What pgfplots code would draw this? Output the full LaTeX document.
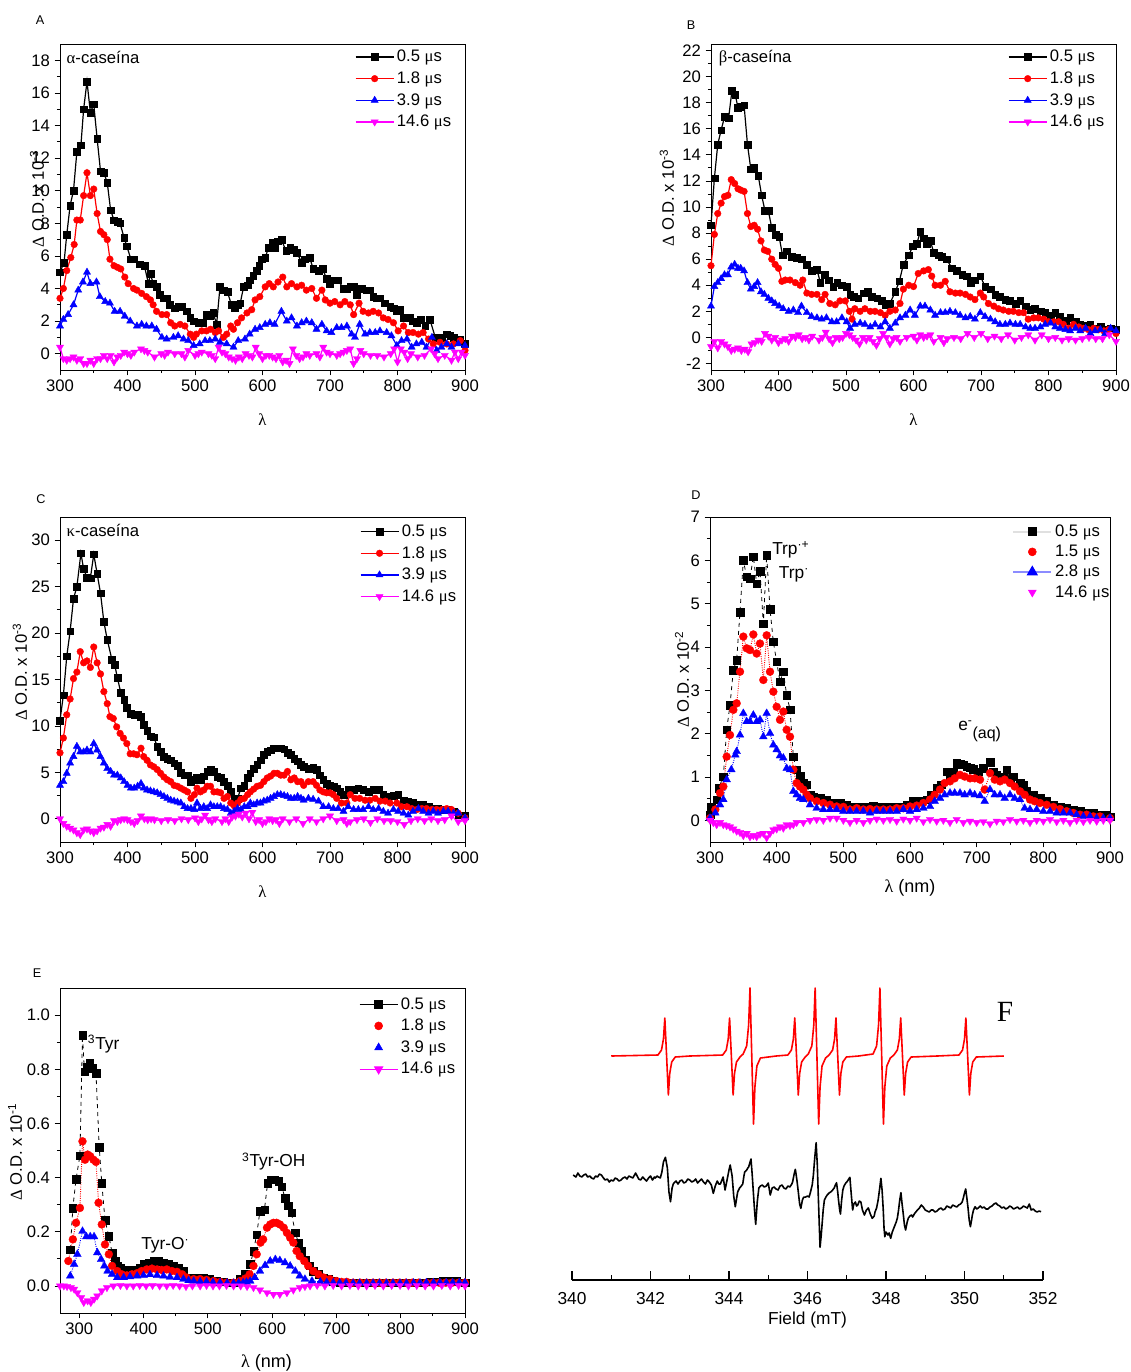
\documentclass[border=0pt]{standalone}
\usepackage{fontspec}
\setmainfont{Liberation Sans}
\newfontfamily\grk{Liberation Serif}
\usepackage{pgfplots}
\pgfplotsset{compat=1.18}
\definecolor{mag}{RGB}{255,0,255}
\definecolor{rd}{RGB}{255,0,0}
\definecolor{bl}{RGB}{0,0,255}
\newcommand{\us}{{\grk μ}s}
\newcommand{\fs}[1]{\fontsize{#1}{#1}\selectfont}
\pgfplotsset{
  spec/.style={
    scale only axis, width=303.75pt, height=244.5pt,
    xmin=300, xmax=900, clip=false,
    axis line style={line width=0.6pt},
    tick align=outside, xtick pos=bottom, ytick pos=left,
    major tick length=4pt, minor tick length=2.3pt,
    every tick/.style={black, line width=0.6pt},
    xtick distance=100, minor x tick num=1, minor y tick num=1,
    tick label style={font=\fs{12.5}},
    /pgf/number format/assume math mode=true,
    label style={font=\fs{12.5}},
    legend style={draw=none, fill=none, inner sep=0pt, font=\fs{12.5}, row sep=2pt, anchor=north west},
    legend cell align=left,
    legend image code/.code={\draw[mark repeat=2,mark phase=2] plot coordinates {(0cm,0cm)(0.5cm,0cm)(1cm,0cm)};},
  },
  sA/.style={black, line width=0.9pt, mark=square*, mark size=2.5pt, mark options={solid, line width=0.3pt}},
  sB/.style={rd, line width=0.9pt, mark=*, mark size=2.5pt, mark options={solid, line width=0.3pt}},
  sC/.style={bl, line width=0.9pt, mark=triangle*, mark size=3.1pt, mark options={solid, line width=0.3pt}},
  sD/.style={mag, line width=0.9pt, mark=triangle*, mark size=3.1pt, mark options={solid, line width=0.3pt, rotate=180}},
}
\begin{document}
\begin{tikzpicture}
\path[use as bounding box] (0,0) rectangle (848.25pt,-1029pt);
% panel letters
\node[font=\fs{9.5}] at (30pt,-15pt) {A};
\node[font=\fs{9.5}] at (518.25pt,-18.75pt) {B};
\node[font=\fs{9.5}] at (30.75pt,-374.25pt) {C};
\node[font=\fs{9.5}] at (522pt,-371.25pt) {D};
\node[font=\fs{9.5}] at (27.75pt,-729.75pt) {E};
\node[font=\grk\fs{22}] at (753.75pt,-759pt) {F};

%%%%%%%%%%%%%%%% A
\begin{axis}[spec, at={(45pt,-277.5pt)}, anchor=south west,
  ymin=-1, ymax=19, ytick={0,2,...,18},
  xlabel={\grk λ}, xlabel style={at={(axis description cs:0.5,-0.153)}, anchor=center},
  ylabel={{\grk Δ} O.D. x 10\textsuperscript{-3}},
  ylabel style={at={(axis description cs:-0.057,0.525)}, anchor=center},
  legend style={at={(0.728,0.99)}}]
\addplot[sA] coordinates {(300,5.0)(306,5.6)(310,7.3)(315,9.1)(320,10.0)(325,12.4)(331,12.8)(335,15.0)(340,16.7)(345,14.8)(350,15.3)(355,13.2)(360,11.2)(365,11.1)(370,10.5)(375,8.8)(380,8.2)(385,8.1)(389,8.0)(395,7.1)(399,6.6)(405,5.8)(410,5.8)(418,5.5)(425,5.4)(431,4.3)(434,4.9)(438,4.3)(443,4.1)(448,3.6)(453,3.4)(458,3.4)(463,3.0)(470,2.8)(475,2.9)(480,2.9)(488,2.6)(493,2.2)(498,2.0)(505,1.9)(512,1.9)(517,2.4)(522,2.3)(527,2.5)(532,1.8)(537,4.1)(543,3.9)(548,3.8)(554,3.0)(559,2.8)(563,3.0)(567,3.1)(572,4.1)(578,4.2)(581,4.5)(586,4.8)(591,5.1)(595,5.4)(599,5.8)(604,5.9)(609,6.5)(615,6.8)(618,6.5)(623,6.9)(628,7.0)(635,6.3)(641,6.5)(646,6.4)(651,6.2)(658,5.6)(663,5.8)(670,5.9)(675,5.2)(683,5.1)(689,5.2)(695,4.6)(700,4.3)(707,4.5)(712,4.5)(720,4.0)(725,4.0)(730,4.1)(735,4.1)(740,3.6)(747,4.0)(754,3.9)(759,3.9)(764,3.5)(769,3.4)(774,3.4)(781,3.1)(789,2.9)(794,2.8)(799,2.6)(804,2.7)(809,2.2)(813,2.2)(818,2.2)(823,2.0)(828,1.9)(834,2.1)(841,1.7)(848,2.1)(856,1.0)(860,1.0)(865,1.0)(873,1.2)(878,1.1)(883,1.0)(888,0.9)(893,0.9)(900,0.6)};
\addlegendentry{0.5 \us}
\addplot[sB] coordinates {(300,3.4)(305,4.0)(310,5.1)(316,5.9)(321,6.7)(325,8.2)(330,8.2)(335,9.7)(340,11.1)(345,9.7)(350,10.1)(355,8.6)(360,7.5)(365,7.3)(370,7.0)(374,5.8)(380,5.4)(385,5.3)(390,5.2)(396,4.7)(401,4.3)(409,4.0)(414,3.9)(421,3.7)(428,3.5)(434,3.3)(438,3.0)(443,2.6)(451,2.4)(458,2.4)(464,1.9)(470,1.7)(478,1.8)(485,1.7)(493,1.2)(498,1.0)(502,1.2)(510,1.4)(517,1.4)(523,1.5)(530,1.3)(535,1.4)(542,1.0)(547,1.2)(553,1.7)(557,1.5)(563,1.9)(569,2.2)(577,2.5)(584,2.7)(589,3.3)(596,3.5)(604,4.1)(610,4.3)(616,4.1)(623,4.4)(630,4.7)(636,4.1)(643,4.3)(651,4.1)(658,4.2)(665,3.9)(673,4.0)(680,3.4)(688,3.9)(693,3.3)(700,3.1)(707,3.2)(715,3.0)(722,3.2)(730,3.0)(735,2.4)(743,3.1)(749,2.6)(757,2.5)(764,2.6)(772,2.5)(779,2.2)(786,2.1)(794,1.9)(801,1.4)(809,1.7)(816,1.3)(823,1.3)(831,1.2)(838,1.3)(846,0.9)(853,0.6)(863,0.7)(873,0.6)(883,0.6)(893,0.8)(900,0.2)};
\addlegendentry{1.8 \us}
\addplot[sC] coordinates {(300,1.7)(305,2.1)(312,2.4)(320,3.0)(327,3.9)(334,4.4)(340,5.0)(345,4.3)(354,4.4)(359,3.5)(367,3.2)(374,3.1)(381,2.6)(389,2.6)(396,2.3)(404,2.0)(414,1.7)(421,1.8)(428,1.7)(436,1.7)(443,1.5)(451,1.0)(458,0.9)(468,1.0)(475,1.1)(483,0.9)(490,0.8)(498,0.5)(507,0.6)(515,0.8)(522,0.8)(530,0.9)(537,0.7)(547,0.6)(557,0.4)(564,0.8)(574,0.9)(581,1.2)(589,1.5)(596,1.6)(604,1.8)(611,1.9)(618,1.8)(628,2.6)(636,2.0)(643,2.2)(651,1.7)(658,1.9)(665,2.0)(673,1.9)(680,1.5)(688,1.8)(695,1.4)(702,1.3)(710,1.6)(717,1.6)(725,1.7)(732,1.2)(737,1.0)(744,1.8)(752,1.2)(759,1.3)(767,1.3)(774,1.4)(784,1.3)(791,1.1)(799,0.5)(806,0.8)(814,0.9)(821,0.4)(828,0.6)(836,0.7)(843,0.4)(851,1.0)(858,0.2)(865,0.4)(873,0.6)(880,0.4)(890,0.6)(900,0.5)};
\addlegendentry{3.9 \us}
\addplot[sD] coordinates {(300,0.4)(305,-0.3)(310,-0.4)(315,-0.3)(320,-0.2)(325,-0.4)(330,-0.3)(335,-0.6)(340,-0.6)(345,-0.4)(350,-0.6)(355,-0.3)(360,-0.3)(365,-0.1)(370,-0.3)(375,-0.1)(380,-0.5)(385,-0.2)(390,-0.1)(395,0.1)(400,0.0)(405,-0.1)(410,0.1)(420,0.3)(425,0.2)(430,0.1)(440,-0.2)(450,0.0)(455,-0.1)(460,0.1)(470,0.0)(480,0.0)(485,-0.2)(490,0.2)(500,-0.1)(505,0.0)(510,0.1)(520,0.0)(525,-0.1)(530,-0.3)(535,0.4)(540,0.1)(545,0.0)(550,-0.2)(555,-0.3)(560,-0.4)(565,-0.2)(570,-0.3)(575,0.0)(580,-0.1)(585,-0.2)(590,0.4)(595,0.0)(600,-0.3)(605,-0.1)(610,-0.1)(615,-0.2)(620,-0.3)(625,-0.1)(630,-0.5)(635,-0.4)(640,-0.6)(645,0.3)(650,-0.1)(655,-0.3)(660,-0.2)(665,0.0)(670,-0.1)(680,0.0)(685,-0.2)(690,0.4)(695,0.1)(700,0.0)(710,-0.1)(715,0.0)(720,0.1)(725,0.2)(730,0.3)(735,-0.6)(740,-0.3)(745,0.2)(750,0.0)(760,-0.1)(770,-0.1)(780,-0.2)(790,0.0)(795,0.3)(800,-0.5)(805,0.3)(810,0.1)(815,-0.3)(820,0.0)(830,-0.2)(840,-0.1)(850,0.3)(855,0.0)(860,-0.3)(870,-0.1)(880,-0.4)(885,0.1)(890,-0.3)(895,0.1)(900,-0.1)};
\addlegendentry{14.6 \us}
\node[anchor=west, font=\fs{12.5}] at (rel axis cs:0.005,0.96) {{\grk α}-caseína};
\end{axis}

%%%%%%%%%%%%%%%% B
\begin{axis}[spec, at={(533.25pt,-277.5pt)}, anchor=south west,
  ymin=-2.5, ymax=22.5, ytick={-2,0,...,22},
  xlabel={\grk λ}, xlabel style={at={(axis description cs:0.5,-0.153)}, anchor=center},
  ylabel={{\grk Δ} O.D. x 10\textsuperscript{-3}},
  ylabel style={at={(axis description cs:-0.109,0.528)}, anchor=center},
  legend style={at={(0.733,0.99)}}]
\addplot[sA] coordinates {(300,8.6)(305,12.2)(310,14.8)(315,15.9)(320,16.9)(326,16.8)(331,18.9)(336,18.6)(340,17.6)(344,17.7)(349,17.8)(354,14.8)(359,12.9)(364,13.0)(370,12.4)(375,10.9)(380,9.7)(385,9.7)(390,8.4)(396,7.9)(401,7.7)(406,6.3)(412,6.6)(420,6.2)(427,6.1)(434,6.0)(442,5.6)(449,5.1)(457,5.2)(462,4.2)(468,4.8)(474,4.4)(481,3.9)(487,4.2)(494,4.0)(501,3.9)(506,3.3)(511,3.1)(518,3.0)(526,3.4)(532,3.5)(538,3.1)(546,3.0)(553,2.8)(558,2.5)(565,2.6)(573,3.5)(579,4.3)(585,5.6)(593,6.3)(599,7.0)(605,7.2)(610,8.1)(615,7.6)(620,7.2)(625,7.4)(630,6.5)(637,6.3)(642,6.2)(649,6.0)(657,5.3)(664,5.1)(672,4.8)(679,4.7)(685,4.2)(691,4.4)(699,4.7)(706,3.9)(714,3.7)(721,3.3)(728,3.1)(736,2.9)(743,2.8)(751,2.6)(758,2.8)(766,2.4)(773,2.1)(780,2.2)(788,2.0)(795,1.9)(803,1.7)(810,1.9)(817,1.6)(825,1.3)(832,1.5)(840,1.2)(847,1.0)(855,0.9)(862,1.0)(869,0.7)(877,0.8)(884,0.6)(892,0.7)(900,0.6)};
\addlegendentry{0.5 \us}
\addplot[sB] coordinates {(300,5.5)(305,7.9)(310,9.5)(315,10.3)(320,10.8)(325,10.9)(330,12.1)(335,11.8)(340,11.4)(344,11.3)(349,11.2)(354,9.5)(359,8.5)(364,8.6)(369,8.3)(374,7.4)(379,6.7)(384,6.6)(390,6.0)(395,5.6)(400,5.3)(405,4.3)(410,4.4)(417,4.4)(425,4.2)(432,4.0)(436,4.4)(442,3.4)(449,3.3)(457,3.3)(464,2.9)(469,3.3)(476,2.6)(484,2.5)(491,2.8)(499,2.8)(505,2.0)(509,1.4)(513,2.2)(521,2.0)(528,2.2)(536,2.0)(543,2.0)(551,1.9)(558,1.7)(565,2.0)(573,2.1)(580,2.6)(585,3.7)(593,4.0)(600,3.9)(607,4.9)(615,5.1)(622,5.2)(627,4.7)(632,4.0)(640,4.0)(647,4.3)(654,3.5)(662,3.4)(669,3.4)(677,3.3)(684,3.1)(691,2.9)(699,3.4)(704,3.1)(711,2.6)(719,2.4)(726,2.2)(733,2.1)(741,2.0)(748,2.0)(756,1.9)(763,1.9)(770,1.4)(778,1.5)(785,1.5)(793,1.4)(800,1.2)(808,1.2)(815,1.2)(822,1.0)(830,0.7)(837,1.0)(845,0.8)(852,0.7)(859,0.6)(867,0.7)(874,0.6)(882,0.5)(889,0.6)(900,0.3)};
\addlegendentry{1.8 \us}
\addplot[sC] coordinates {(300,2.4)(305,3.9)(310,4.2)(315,4.5)(320,4.8)(325,4.8)(330,5.4)(335,5.6)(340,5.3)(344,5.3)(349,5.1)(354,4.2)(359,3.7)(364,3.9)(369,4.2)(374,3.5)(379,3.3)(385,3.0)(390,2.8)(395,2.6)(401,2.4)(407,2.2)(415,2.0)(422,2.1)(429,1.9)(434,2.4)(442,1.9)(449,1.6)(457,1.5)(464,1.4)(471,1.5)(479,1.2)(486,1.2)(494,1.5)(501,1.2)(506,0.7)(513,1.0)(521,1.1)(528,1.0)(536,0.8)(543,1.0)(551,0.8)(558,1.2)(565,0.7)(573,1.1)(580,1.5)(588,1.7)(595,2.1)(602,1.7)(610,2.4)(617,2.4)(625,2.1)(632,1.7)(640,1.9)(647,1.9)(654,2.0)(662,1.9)(669,1.7)(677,1.5)(684,1.6)(691,1.4)(699,1.9)(706,1.6)(714,1.4)(721,1.2)(728,1.0)(736,1.0)(743,1.1)(751,1.0)(758,1.0)(766,0.8)(773,0.7)(780,0.7)(788,0.8)(795,1.0)(803,1.1)(810,0.8)(817,0.7)(825,0.6)(832,0.5)(840,0.7)(847,0.5)(855,0.7)(862,0.3)(869,0.5)(877,0.6)(884,0.3)(892,0.7)(900,0.5)};
\addlegendentry{3.9 \us}
\addplot[sD] coordinates {(300,-0.7)(305,-0.3)(310,-0.8)(315,-0.3)(320,-0.5)(325,-0.7)(330,-1.0)(335,-0.9)(340,-0.8)(345,-1.0)(350,-0.9)(355,-1.1)(360,-0.5)(365,-0.4)(370,-0.2)(375,-0.3)(380,0.3)(385,0.1)(390,-0.2)(395,0.0)(400,-0.4)(405,-0.2)(410,-0.1)(415,-0.3)(420,0.1)(425,0.0)(430,0.2)(435,-0.1)(440,0.0)(445,-0.2)(450,0.1)(460,-0.2)(465,0.0)(470,0.4)(475,-0.1)(480,-0.4)(485,0.0)(490,-0.1)(495,0.0)(500,0.3)(505,0.2)(510,0.0)(515,-0.2)(520,-0.5)(525,0.0)(530,-0.2)(535,0.0)(540,-0.3)(545,-0.6)(550,-0.1)(555,0.3)(560,0.0)(565,-0.5)(570,-0.1)(575,0.0)(580,-0.3)(590,0.0)(600,0.1)(605,-0.2)(610,0.2)(615,0.0)(620,0.1)(625,0.2)(630,-0.3)(640,0.0)(645,-0.4)(650,-0.1)(660,0.0)(670,-0.1)(680,0.3)(690,0.0)(700,0.3)(710,-0.1)(720,0.1)(730,-0.1)(740,0.2)(750,-0.2)(760,0.0)(770,0.2)(780,-0.2)(790,0.2)(800,-0.1)(810,0.0)(820,-0.2)(830,-0.1)(840,-0.2)(850,-0.1)(860,0.0)(870,-0.1)(880,-0.1)(890,0.2)(900,-0.3)};
\addlegendentry{14.6 \us}
\node[anchor=west, font=\fs{12.5}] at (rel axis cs:0.008,0.957) {{\grk β}-caseína};
\end{axis}

%%%%%%%%%%%%%%%% C
\begin{axis}[spec, at={(45pt,-631.5pt)}, anchor=south west, height=243.75pt,
  ymin=-2.5, ymax=32.5, ytick={0,5,...,30},
  xlabel={\grk λ}, xlabel style={at={(axis description cs:0.5,-0.154)}, anchor=center},
  ylabel={{\grk Δ} O.D. x 10\textsuperscript{-3}},
  ylabel style={at={(axis description cs:-0.099,0.523)}, anchor=center},
  legend style={at={(0.74,0.985)}}]
\addplot[sA] coordinates {(300,10.6)(305,13.3)(310,17.5)(315,20.2)(320,23.7)(325,25.0)(331,28.6)(335,26.9)(340,26.0)(345,25.9)(350,28.5)(355,26.4)(360,24.3)(365,21.2)(370,19.3)(377,17.1)(381,16.6)(385,15.2)(390,13.6)(395,12.8)(399,12.0)(405,11.3)(410,11.2)(415,11.2)(420,11.0)(424,10.1)(429,9.5)(434,8.9)(439,8.8)(444,7.8)(449,7.2)(454,6.7)(459,6.5)(464,6.3)(469,6.0)(474,5.7)(479,5.0)(484,4.7)(489,4.7)(494,4.0)(499,4.2)(503,4.4)(508,4.2)(513,4.6)(518,5.1)(523,5.3)(528,5.1)(533,4.5)(538,4.4)(543,4.0)(548,3.6)(553,2.9)(558,2.2)(563,2.2)(568,3.3)(573,3.6)(578,4.4)(582,4.9)(587,5.4)(592,5.8)(597,6.3)(602,6.9)(607,7.2)(612,7.4)(617,7.6)(622,7.6)(627,7.6)(632,7.5)(637,7.1)(642,6.9)(647,6.5)(652,6.2)(657,5.8)(661,5.6)(668,5.4)(675,5.5)(680,5.3)(685,4.7)(690,4.2)(695,3.8)(700,3.6)(705,3.5)(710,3.3)(715,2.9)(720,2.6)(727,3.1)(735,3.1)(742,3.3)(749,3.1)(757,2.9)(764,3.1)(772,3.1)(779,2.6)(786,2.4)(794,2.5)(801,2.6)(809,2.0)(816,1.9)(823,1.7)(831,1.5)(838,1.5)(846,1.3)(853,1.1)(860,1.1)(868,1.0)(875,1.0)(883,0.8)(890,0.4)(900,0.3)};
\addlegendentry{0.5 \us}
\addplot[sB] coordinates {(300,7.1)(305,8.7)(310,11.2)(315,12.9)(320,15.1)(325,15.8)(330,18.0)(335,16.8)(340,17.0)(345,16.3)(350,18.5)(355,16.8)(360,15.6)(365,13.7)(370,12.4)(374,11.0)(379,10.8)(384,9.9)(389,9.2)(394,8.7)(399,8.1)(404,7.0)(409,7.0)(414,6.9)(420,7.6)(424,6.7)(429,6.3)(434,5.8)(439,5.6)(444,5.3)(449,4.9)(454,4.5)(459,4.2)(464,4.0)(469,3.6)(474,3.5)(479,3.3)(484,3.1)(489,2.9)(494,2.2)(499,2.6)(503,3.3)(508,2.9)(513,3.1)(518,3.5)(523,3.5)(528,2.9)(533,2.9)(538,2.8)(543,2.2)(548,2.4)(553,1.7)(558,1.4)(563,1.7)(568,2.1)(573,2.2)(578,2.6)(582,2.9)(587,3.2)(592,3.5)(597,3.6)(602,4.0)(607,4.4)(612,4.6)(617,4.9)(622,4.9)(627,4.7)(632,4.7)(637,5.1)(642,4.2)(647,4.4)(652,4.0)(657,4.0)(661,3.6)(668,4.0)(675,4.0)(680,3.6)(685,3.1)(690,2.9)(695,2.8)(700,2.8)(705,2.6)(710,2.2)(717,1.7)(725,1.7)(730,2.6)(737,2.2)(744,2.2)(752,2.0)(759,2.0)(767,2.2)(774,1.9)(782,1.9)(789,1.7)(799,1.7)(806,1.3)(814,1.3)(821,1.1)(829,1.0)(836,1.1)(843,1.1)(851,1.0)(858,1.0)(866,1.0)(873,1.1)(880,1.0)(890,0.6)(900,0.1)};
\addlegendentry{1.8 \us}
\addplot[sC] coordinates {(300,3.6)(305,4.0)(310,4.9)(315,6.0)(320,6.7)(325,7.8)(330,7.2)(335,7.2)(340,7.4)(345,7.2)(350,8.1)(355,7.4)(360,6.7)(365,6.0)(370,5.4)(375,5.1)(380,4.7)(385,4.7)(390,4.4)(395,4.0)(400,3.6)(405,3.3)(410,3.3)(415,3.5)(420,3.8)(424,3.3)(429,3.1)(434,3.0)(439,2.9)(444,2.8)(449,2.6)(454,2.4)(459,2.2)(464,2.0)(469,1.9)(474,1.8)(479,1.7)(484,1.3)(489,1.1)(494,1.1)(499,1.0)(503,1.7)(508,1.1)(513,1.3)(518,1.1)(523,1.5)(528,1.3)(533,1.3)(538,1.3)(543,1.1)(548,1.0)(553,0.6)(558,0.8)(563,1.1)(568,1.0)(573,1.3)(578,1.3)(582,1.7)(587,1.5)(592,1.7)(597,1.7)(602,1.9)(607,2.0)(612,2.2)(617,2.4)(622,2.6)(627,2.6)(632,2.5)(637,2.4)(642,2.2)(647,2.2)(652,2.4)(657,2.2)(661,2.0)(668,2.2)(675,2.1)(683,1.9)(690,1.3)(698,1.3)(705,1.1)(712,1.1)(720,0.8)(727,1.3)(735,1.0)(742,1.0)(749,1.0)(757,1.3)(764,1.0)(772,1.1)(779,0.8)(786,0.6)(794,1.0)(801,0.8)(809,0.6)(816,0.4)(823,0.8)(831,1.1)(838,0.8)(846,0.6)(853,0.8)(860,0.6)(868,0.8)(875,0.8)(883,0.6)(890,0.6)(900,0.1)};
\addlegendentry{3.9 \us}
\addplot[sD] coordinates {(300,0.0)(305,-0.5)(310,-0.8)(315,-1.0)(320,-1.2)(325,-1.5)(330,-1.7)(335,-1.2)(340,-1.1)(345,-1.3)(350,-1.5)(355,-1.3)(360,-1.0)(365,-0.9)(370,-0.6)(375,-0.8)(380,-0.2)(385,-0.3)(390,-0.1)(395,0.0)(400,-0.1)(405,-0.3)(410,-0.5)(415,-0.2)(420,0.3)(425,0.0)(430,-0.1)(435,0.0)(440,-0.1)(450,-0.2)(460,-0.1)(470,-0.2)(480,0.0)(490,-0.1)(500,0.1)(505,-0.3)(510,0.0)(515,0.4)(520,-0.1)(525,-0.3)(530,0.0)(540,-0.3)(545,0.0)(550,-0.3)(555,0.2)(560,0.3)(565,0.5)(570,0.2)(575,0.6)(580,0.0)(585,0.7)(590,-0.3)(595,-0.1)(600,-0.5)(605,-0.3)(610,0.0)(615,-0.2)(620,-0.1)(625,-0.5)(630,0.0)(640,-0.3)(650,0.0)(660,-0.5)(670,0.0)(680,-0.3)(690,0.0)(700,0.3)(710,-0.2)(720,-0.1)(725,-0.5)(730,-0.3)(740,-0.1)(750,0.0)(760,-0.4)(770,0.0)(780,-0.2)(790,-0.2)(800,-0.3)(810,-0.6)(820,-0.2)(830,0.0)(840,-0.2)(850,0.0)(860,-0.2)(870,-0.1)(880,0.3)(890,-0.3)(900,-0.2)};
\addlegendentry{14.6 \us}
\node[anchor=west, font=\fs{12.5}] at (rel axis cs:0.005,0.96) {{\grk κ}-caseína};
\end{axis}

%%%%%%%%%%%%%%%% D
\begin{axis}[spec, at={(532.5pt,-631.5pt)}, anchor=south west, width=300pt, height=243.75pt,
  ymin=-0.5, ymax=7, ytick={0,...,7},
  xlabel={{\grk λ} (nm)}, xlabel style={font=\fs{13.5}, at={(axis description cs:0.5,-0.142)}, anchor=center},
  ylabel={{\grk Δ} O.D. x 10\textsuperscript{-2}},
  ylabel style={at={(axis description cs:-0.07,0.50)}, anchor=center},
  legend style={at={(0.755,0.985)}, row sep=1pt},
  legend entries={0.5 \us, 1.5 \us, 2.8 \us, 14.6 \us}]
\addlegendimage{black!12, line width=1.6pt, mark=square*, mark size=2.8pt, mark options={black, fill=black}}
\addlegendimage{only marks, rd, mark=*, mark size=3pt, legend image code/.code={\draw[mark repeat=2,mark phase=2] plot coordinates {(0cm,0cm)(0.5cm,0cm)(1cm,0cm)};}}
\addlegendimage{bl!45, line width=1.6pt, mark=triangle*, mark size=3.4pt, mark options={bl, fill=bl}}
\addlegendimage{only marks, mag, mark=triangle*, mark size=3.4pt, mark options={rotate=180}, legend image code/.code={\draw[mark repeat=2,mark phase=2] plot coordinates {(0cm,0cm)(0.5cm,0cm)(1cm,0cm)};}}
\addplot[forget plot, black, dashed, line width=0.6pt, mark=square*, mark size=2.8pt, mark options={solid, line width=0.2pt}] coordinates {(300,0.13)(302,0.32)(310,0.48)(313,0.74)(320,1.01)(325,2.09)(330,2.66)(335,3.47)(340,3.70)(345,4.81)(350,6.00)(355,5.62)(360,5.58)(365,6.09)(370,5.46)(375,5.75)(380,4.54)(385,6.12)(390,4.87)(395,4.12)(400,3.66)(405,3.20)(410,3.43)(415,2.89)(420,2.56)(425,1.47)(430,1.17)(435,1.03)(440,0.86)(445,0.82)(450,0.59)(455,0.55)(465,0.51)(475,0.48)(485,0.40)(495,0.40)(505,0.36)(515,0.32)(525,0.32)(535,0.32)(545,0.34)(555,0.31)(565,0.31)(575,0.32)(585,0.32)(595,0.36)(605,0.44)(615,0.44)(625,0.48)(632,0.59)(640,0.74)(647,0.82)(655,1.13)(660,1.01)(665,1.13)(670,1.32)(675,1.30)(680,1.28)(685,1.24)(690,1.22)(695,1.18)(702,1.13)(710,1.20)(720,1.34)(725,1.13)(730,1.05)(740,1.01)(745,1.17)(750,0.94)(755,1.01)(765,0.86)(770,0.82)(775,0.67)(780,0.59)(785,0.59)(795,0.51)(805,0.44)(815,0.36)(825,0.32)(835,0.28)(845,0.25)(855,0.21)(865,0.17)(875,0.17)(885,0.13)(895,0.13)(900,0.09)};
\addplot[forget plot, rd, densely dotted, line width=0.7pt, mark=*, mark size=3pt, mark options={solid, line width=0.2pt}] coordinates {(300,0.05)(308,0.25)(315,0.63)(320,0.78)(325,1.47)(330,1.97)(335,2.55)(340,2.70)(345,3.43)(350,4.24)(355,3.97)(360,3.93)(365,4.29)(370,3.85)(375,4.08)(380,3.24)(385,4.27)(390,3.43)(395,2.97)(400,2.62)(405,2.32)(410,2.51)(415,2.09)(420,1.93)(425,1.17)(430,0.86)(435,0.78)(440,0.71)(445,0.59)(450,0.51)(460,0.44)(470,0.40)(480,0.36)(490,0.32)(500,0.31)(510,0.25)(520,0.28)(530,0.25)(540,0.26)(550,0.25)(560,0.25)(570,0.25)(580,0.28)(590,0.28)(600,0.32)(610,0.34)(620,0.40)(630,0.48)(637,0.59)(645,0.71)(652,0.86)(660,0.90)(667,0.97)(675,1.05)(682,1.01)(690,0.97)(697,0.97)(705,0.94)(712,0.71)(720,1.09)(727,0.94)(735,0.90)(742,0.94)(750,0.86)(757,0.78)(765,0.67)(772,0.59)(780,0.48)(787,0.44)(795,0.40)(805,0.36)(815,0.31)(825,0.26)(835,0.21)(845,0.17)(855,0.13)(865,0.13)(875,0.09)(885,0.09)(900,0.05)};
\addplot[forget plot, bl, densely dotted, line width=0.7pt, mark=triangle*, mark size=3.4pt, mark options={solid, line width=0.2pt}] coordinates {(300,0.05)(308,0.17)(315,0.36)(320,0.48)(325,0.94)(332,1.17)(338,1.51)(340,1.59)(345,1.97)(350,2.47)(355,2.28)(360,2.28)(365,2.43)(370,2.28)(375,2.32)(380,1.93)(385,2.47)(390,2.01)(395,1.74)(400,1.63)(405,1.49)(410,1.44)(415,1.20)(420,1.17)(425,0.67)(430,0.59)(435,0.51)(440,0.48)(450,0.36)(460,0.28)(470,0.25)(480,0.25)(490,0.25)(500,0.21)(510,0.21)(520,0.21)(530,0.21)(540,0.17)(550,0.21)(560,0.21)(570,0.21)(580,0.21)(590,0.25)(600,0.21)(610,0.25)(620,0.28)(630,0.32)(637,0.44)(645,0.51)(652,0.59)(660,0.63)(667,0.63)(675,0.63)(682,0.59)(690,0.63)(697,0.59)(705,0.57)(712,0.44)(720,0.71)(727,0.59)(735,0.59)(742,0.51)(750,0.59)(757,0.51)(765,0.48)(772,0.28)(780,0.25)(790,0.25)(800,0.21)(810,0.21)(820,0.17)(830,0.17)(840,0.17)(850,0.13)(860,0.09)(870,0.09)(880,0.05)(890,0.05)(900,0.05)};
\addplot[forget plot, mag, line width=0.5pt, mark=triangle*, mark size=3.2pt, mark options={solid, line width=0.2pt, rotate=180}] coordinates {(300,0.0)(305,-0.05)(310,-0.1)(315,-0.05)(320,-0.1)(325,-0.12)(330,-0.15)(335,-0.2)(340,-0.25)(345,-0.28)(350,-0.35)(355,-0.3)(360,-0.38)(365,-0.35)(370,-0.38)(375,-0.32)(380,-0.3)(385,-0.4)(390,-0.3)(395,-0.22)(400,-0.2)(405,-0.15)(410,-0.18)(415,-0.1)(420,-0.12)(425,-0.1)(430,-0.05)(440,-0.05)(450,0.0)(460,0.02)(470,0.0)(480,0.05)(490,0.05)(500,0.0)(510,-0.05)(520,0.0)(530,-0.05)(540,0.0)(550,0.03)(560,0.0)(570,0.02)(580,-0.02)(590,0.03)(600,0.0)(610,0.05)(620,-0.03)(630,0.02)(640,-0.02)(650,0.0)(660,-0.05)(670,0.02)(680,-0.05)(690,-0.02)(700,-0.05)(710,-0.03)(720,-0.08)(730,-0.02)(740,-0.03)(750,0.02)(760,-0.02)(770,0.0)(780,-0.05)(790,0.0)(800,-0.02)(810,0.02)(820,-0.03)(830,0.0)(840,-0.05)(850,0.0)(860,-0.03)(870,0.0)(880,-0.02)(890,0.0)(900,0.0)};
\node[anchor=south west, font=\fs{13}, inner sep=0pt] at (axis cs:393,6.05) {Trp\textsuperscript{·+}};
\node[anchor=south west, font=\fs{13}, inner sep=0pt] at (axis cs:403,5.5) {Trp\textsuperscript{·}};
\node[anchor=south west, font=\fs{13}, inner sep=0pt] at (axis cs:672,1.8) {e\textsuperscript{-}\raisebox{-0.9ex}{\fs{12}(aq)}};
\end{axis}

%%%%%%%%%%%%%%%% E
\begin{axis}[spec, at={(45pt,-984.75pt)}, anchor=south west, height=243.75pt,
  xmin=270, xmax=900, ymin=-0.1, ymax=1.1, ytick={0,0.2,...,1.0},
  yticklabel style={/pgf/number format/.cd, fixed, fixed zerofill, precision=1},
  xlabel={{\grk λ} (nm)}, xlabel style={font=\fs{13.5}, at={(axis description cs:0.51,-0.154)}, anchor=center},
  ylabel={{\grk Δ} O.D. x 10\textsuperscript{-1}},
  ylabel style={at={(axis description cs:-0.111,0.495)}, anchor=center},
  legend style={at={(0.738,0.98)}},
  legend entries={0.5 \us, 1.8 \us, 3.9 \us, 14.6 \us}]
\addlegendimage{black, line width=0.8pt, mark=square*, mark size=2.8pt}
\addlegendimage{only marks, rd, mark=*, mark size=3pt, legend image code/.code={\draw[mark repeat=2,mark phase=2] plot coordinates {(0cm,0cm)(0.5cm,0cm)(1cm,0cm)};}}
\addlegendimage{only marks, bl, mark=triangle*, mark size=3.4pt, legend image code/.code={\draw[mark repeat=2,mark phase=2] plot coordinates {(0cm,0cm)(0.5cm,0cm)(1cm,0cm)};}}
\addlegendimage{mag, line width=0.8pt, mark=triangle*, mark size=3.4pt, mark options={rotate=180}}
\addplot[forget plot, black, dashed, line width=0.6pt, mark=square*, mark size=2.8pt, mark options={solid, line width=0.2pt}] coordinates {(286,0.135)(290,0.288)(295,0.395)(301,0.481)(305,0.926)(308,0.791)(312,0.81)(316,0.822)(320,0.804)(326,0.785)(331,0.513)(335,0.380)(340,0.243)(346,0.184)(351,0.123)(356,0.092)(360,0.075)(364,0.067)(371,0.061)(379,0.059)(387,0.061)(395,0.067)(400,0.080)(408,0.086)(416,0.092)(423,0.092)(431,0.086)(439,0.083)(447,0.074)(454,0.067)(462,0.055)(472,0.031)(483,0.031)(493,0.031)(503,0.025)(514,0.018)(524,0.015)(535,0.012)(542,0.012)(550,0.025)(558,0.043)(566,0.080)(571,0.129)(576,0.190)(581,0.276)(588,0.282)(593,0.380)(598,0.393)(603,0.393)(610,0.387)(615,0.366)(620,0.325)(625,0.297)(630,0.270)(636,0.196)(641,0.160)(646,0.129)(651,0.098)(658,0.074)(664,0.055)(672,0.043)(680,0.031)(687,0.025)(695,0.018)(706,0.012)(716,0.012)(726,0.012)(736,0.012)(746,0.012)(756,0.012)(766,0.012)(776,0.012)(786,0.012)(796,0.012)(806,0.012)(816,0.012)(826,0.012)(836,0.012)(846,0.015)(856,0.015)(866,0.018)(876,0.018)(887,0.018)(900,0.012)};
\addplot[forget plot, rd, densely dotted, line width=0.7pt, mark=*, mark size=3pt, mark options={solid, line width=0.2pt}] coordinates {(283,0.092)(290,0.172)(295,0.233)(301,0.288)(305,0.534)(309,0.466)(313,0.485)(317,0.479)(322,0.466)(326,0.458)(330,0.307)(335,0.227)(340,0.153)(346,0.117)(351,0.074)(359,0.055)(366,0.043)(374,0.039)(382,0.043)(390,0.047)(397,0.055)(405,0.061)(413,0.064)(421,0.061)(428,0.059)(436,0.061)(444,0.055)(452,0.052)(460,0.043)(467,0.031)(478,0.025)(488,0.025)(498,0.022)(509,0.018)(519,0.015)(529,0.012)(540,0.012)(550,0.018)(558,0.027)(565,0.043)(571,0.074)(576,0.117)(582,0.160)(586,0.172)(592,0.215)(597,0.227)(602,0.233)(607,0.233)(612,0.227)(618,0.215)(623,0.196)(628,0.178)(633,0.160)(638,0.129)(643,0.110)(650,0.092)(656,0.074)(664,0.055)(672,0.043)(680,0.031)(690,0.025)(700,0.018)(708,0.015)(716,0.015)(726,0.012)(737,0.012)(747,0.012)(757,0.012)(767,0.012)(777,0.012)(788,0.012)(798,0.012)(808,0.012)(818,0.012)(828,0.012)(840,0.012)(850,0.012)(860,0.012)(870,0.012)(880,0.012)(890,0.012)(900,0.012)};
\addplot[forget plot, bl, densely dotted, line width=0.7pt, mark=triangle*, mark size=3.4pt, mark options={solid, line width=0.2pt}] coordinates {(286,0.037)(292,0.080)(297,0.117)(305,0.202)(311,0.182)(317,0.182)(323,0.182)(328,0.123)(334,0.098)(339,0.074)(344,0.055)(351,0.043)(359,0.031)(369,0.031)(379,0.034)(390,0.037)(400,0.039)(410,0.042)(421,0.039)(431,0.037)(441,0.033)(452,0.031)(462,0.025)(470,0.020)(478,0.018)(488,0.016)(498,0.015)(508,0.013)(519,0.012)(530,0.011)(540,0.010)(548,0.011)(555,0.012)(560,0.014)(566,0.018)(573,0.031)(581,0.055)(589,0.076)(597,0.092)(605,0.098)(612,0.094)(620,0.086)(628,0.074)(636,0.055)(643,0.037)(651,0.025)(662,0.018)(675,0.015)(685,0.013)(695,0.012)(705,0.012)(715,0.011)(726,0.010)(736,0.010)(747,0.010)(757,0.010)(767,0.010)(778,0.010)(788,0.010)(799,0.010)(809,0.010)(820,0.011)(830,0.011)(840,0.012)(851,0.012)(861,0.012)(871,0.012)(881,0.012)(891,0.012)(900,0.012)};
\addplot[forget plot, mag, line width=0.6pt, mark=triangle*, mark size=3.2pt, mark options={solid, line width=0.2pt, rotate=180}] coordinates {(270,0.0)(276,0.0)(281,-0.002)(287,-0.006)(292,-0.012)(297,-0.025)(303,-0.043)(307,-0.061)(313,-0.055)(318,-0.061)(323,-0.049)(328,-0.037)(335,-0.018)(343,-0.006)(353,0.0)(364,0.002)(374,0.0)(384,0.0)(394,0.002)(404,0.0)(414,0.002)(425,0.0)(436,0.0)(446,0.002)(456,0.0)(466,-0.002)(476,0.0)(488,0.0)(498,0.002)(508,0.0)(518,0.0)(529,0.002)(540,0.0)(551,0.0)(561,-0.002)(571,-0.006)(581,-0.015)(592,-0.025)(602,-0.031)(612,-0.031)(623,-0.025)(633,-0.015)(643,-0.006)(651,-0.002)(659,0.0)(670,0.002)(682,0.0)(695,0.002)(708,0.0)(721,0.002)(734,0.0)(747,0.0)(760,0.002)(773,0.0)(786,0.002)(799,0.002)(812,0.0)(825,0.002)(838,0.0)(851,0.0)(864,0.002)(877,0.0)(890,0.002)(900,0.0)};
\node[anchor=south west, font=\fs{13}, inner sep=0pt] at (axis cs:313,0.86) {\textsuperscript{3}Tyr};
\node[anchor=south west, font=\fs{13}, inner sep=0pt] at (axis cs:396,0.12) {Tyr-O\textsuperscript{·}};
\node[anchor=south west, font=\fs{13}, inner sep=0pt] at (axis cs:553,0.425) {\textsuperscript{3}Tyr-OH};
\end{axis}

%%%%%%%%%%%%%%%% F
\begin{axis}[at={(429pt,-960pt)}, anchor=south west, scale only axis,
  width=353.25pt, height=225pt, xmin=340, xmax=352, ymin=0, ymax=300,
  clip=false, axis x line=bottom, axis y line=none,
  x axis line style={-, line width=1.1pt},
  xtick={340,342,...,352}, minor x tick num=1,
  tick align=inside, major tick length=7pt, minor tick length=4pt,
  every tick/.style={black, line width=1.1pt},
  tick label style={font=\fs{13}},
  xticklabel style={yshift=-6pt},
  /pgf/number format/assume math mode=true,
  /pgf/number format/set thousands separator={},
  xlabel={Field (mT)}, xlabel style={font=\fs{13}, at={(axis description cs:0.5,0)}, yshift=-30pt, anchor=center}]
\addplot[rd, line width=1.2pt, line join=round] coordinates {(341.0,224)(342.19,225)(342.28,230)(342.33,241)(342.365,262)(342.41,224)(342.455,185)(342.49,206.5)(342.54,218)(342.63,223)(343.0,224)(343.84,225)(343.93,230)(343.98,241)(344.015,262)(344.06,224)(344.105,185)(344.14,206.5)(344.19,218)(344.28,223)(344.36,226)(344.45,234)(344.50,255)(344.535,292)(344.58,224)(344.625,156)(344.66,193)(344.71,214)(344.80,222)(345.2,224)(345.50,225)(345.59,230)(345.64,241)(345.675,262)(345.72,224)(345.765,185)(345.80,206.5)(345.85,218)(345.94,223)(346.02,226)(346.11,234)(346.16,255)(346.195,292)(346.24,224)(346.285,156)(346.32,193)(346.37,214)(346.46,222)(346.55,225)(346.64,230)(346.69,241)(346.725,262)(346.77,224)(346.815,185)(346.85,206.5)(346.90,218)(346.99,223)(347.3,224)(347.67,226)(347.76,234)(347.81,255)(347.845,292)(347.89,224)(347.935,156)(347.97,193)(348.02,214)(348.11,222)(348.20,225)(348.29,230)(348.34,241)(348.375,262)(348.42,224)(348.465,185)(348.50,206.5)(348.55,218)(348.64,223)(349.3,224)(349.86,225)(349.95,230)(350.00,241)(350.035,262)(350.08,224)(350.125,185)(350.16,206.5)(350.21,218)(350.30,223)(351.0,224)};
\addplot[black, line width=1.2pt, line join=round] coordinates {(340.03,105)(340.1,103)(340.15,107)(340.2,104)(340.25,103)(340.3,105)(340.35,106)(340.4,103)(340.45,104)(340.5,102)(340.55,101)(340.6,104)(340.65,103)(340.7,106)(340.75,105)(340.8,102)(340.85,100)(340.9,101)(340.95,98)(341.0,100)(341.05,99)(341.1,102)(341.15,101)(341.2,99)(341.25,100)(341.3,102)(341.35,103)(341.4,101)(341.45,104)(341.5,103)(341.55,102)(341.62,107)(341.66,104)(341.7,101)(341.75,100)(341.8,103)(341.85,101)(341.9,99)(341.95,102)(342.0,104)(342.05,100)(342.1,103)(342.12,102)(342.17,104)(342.2,103)(342.25,102)(342.29,108)(342.33,118)(342.38,122.7)(342.43,112)(342.47,88)(342.51,78.3)(342.55,92)(342.58,96)(342.6,97)(342.65,99)(342.7,96)(342.75,99)(342.8,100)(342.85,97)(342.9,98)(342.95,101)(343.0,100)(343.05,98)(343.1,99)(343.15,101)(343.2,97)(343.25,99)(343.3,101)(343.35,98)(343.4,96)(343.45,100)(343.5,98)(343.55,95)(343.6,86.7)(343.65,94)(343.7,99)(343.74,96)(343.78,96)(343.82,100)(343.85,103)(343.9,90)(343.95,100)(344.0,110)(344.03,115)(344.08,104)(344.12,84)(344.16,73.3)(344.22,88)(344.27,92)(344.3,93.3)(344.35,96)(344.38,104)(344.4,108)(344.45,110)(344.48,112)(344.5,113)(344.53,117)(344.56,121)(344.59,106)(344.62,88)(344.65,70)(344.68,55.7)(344.72,78)(344.76,92)(344.8,94)(344.85,95)(344.9,93)(344.95,94)(345.0,97)(345.05,85)(345.1,92)(345.15,93)(345.2,91)(345.25,90)(345.3,94)(345.35,95)(345.4,92)(345.45,91)(345.5,94)(345.55,93)(345.6,96)(345.62,98)(345.66,106)(345.69,110.7)(345.73,100)(345.76,90)(345.8,76)(345.83,71.7)(345.87,80)(345.9,82.7)(345.95,83)(346.0,84)(346.04,83)(346.07,87)(346.12,95)(346.15,105)(346.18,120)(346.22,137.3)(346.25,115)(346.27,90)(346.3,55)(346.32,32.7)(346.35,45)(346.37,55)(346.4,70)(346.43,80)(346.47,83)(346.5,85)(346.55,87)(346.6,88.3)(346.64,90)(346.68,92)(346.71,95)(346.74,97.3)(346.77,88)(346.79,80)(346.82,70)(346.84,66)(346.87,80)(346.9,90)(346.93,94)(346.97,96.7)(347.02,99)(347.05,101)(347.08,102.7)(347.11,88)(347.15,70)(347.18,76)(347.22,78)(347.25,74)(347.28,75)(347.32,79)(347.36,78)(347.4,70)(347.45,65)(347.5,70)(347.55,72)(347.6,66)(347.65,61.7)(347.7,64)(347.72,68)(347.76,72)(347.8,80)(347.84,92)(347.87,101.7)(347.9,90)(347.93,70)(347.95,52)(347.97,43.3)(348.0,48)(348.05,45)(348.08,47)(348.12,41.7)(348.16,48)(348.2,52)(348.23,55)(348.26,58)(348.29,62)(348.32,70)(348.35,80)(348.38,87.3)(348.41,76)(348.44,66)(348.47,55)(348.5,50)(348.54,58)(348.57,62)(348.61,64)(348.65,65)(348.68,63)(348.72,66)(348.76,68)(348.8,70)(348.85,72)(348.9,75)(348.95,73)(349.0,70)(349.05,69)(349.1,68)(349.15,70)(349.2,70)(349.25,68)(349.3,69)(349.35,71)(349.4,72)(349.45,70)(349.5,71)(349.55,74)(349.6,73)(349.65,72)(349.7,75)(349.75,74)(349.8,73)(349.85,75)(349.9,76)(349.94,78)(349.97,82)(350.0,87)(350.03,91)(350.06,82)(350.09,72)(350.12,60)(350.15,53.3)(350.18,60)(350.2,65)(350.23,70)(350.27,73.3)(350.31,71)(350.35,72)(350.4,74)(350.45,72)(350.5,73)(350.55,71)(350.6,71)(350.65,73)(350.7,74)(350.75,76)(350.8,77)(350.85,75)(350.9,74)(350.95,72)(351.0,73)(351.05,71)(351.1,72)(351.15,74)(351.2,73)(351.25,71)(351.3,72)(351.35,73)(351.4,71)(351.45,72)(351.5,74)(351.55,73)(351.6,72)(351.65,76)(351.7,70)(351.75,71)(351.8,69)(351.85,68)(351.9,69)(351.95,68.3)};
\end{axis}
\end{tikzpicture}
\end{document}
